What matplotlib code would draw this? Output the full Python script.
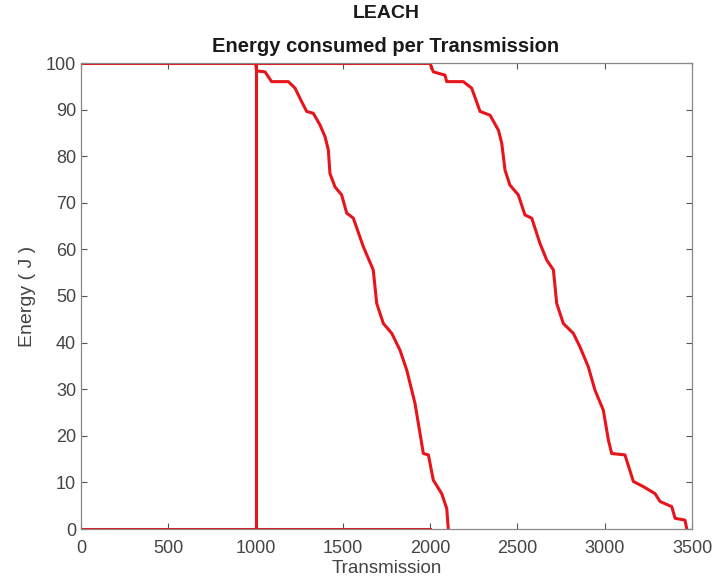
import matplotlib
matplotlib.use("Agg")
import matplotlib.pyplot as plt

plt.rcParams["font.family"] = ["Liberation Sans", "DejaVu Sans"]

# node that stays alive at full energy until round 2000
top_x = [0, 2000]
top_y = [100, 100]

# dead nodes (zero energy) over the first 2000 transmissions
floor_x = [0, 2000]
floor_y = [0, 0]

# node switched on at 1000
jump_x = [1000, 1000]
jump_y = [0, 100]

# first decay curve
c1_x = [1000, 1006, 1054, 1092, 1188, 1226, 1264, 1293, 1331, 1369, 1398, 1417,
        1426, 1455, 1493, 1522, 1560, 1617, 1674, 1694, 1732, 1780, 1827, 1866,
        1913, 1942, 1961, 1990, 2018, 2066, 2095, 2104]
c1_y = [100, 98.3, 98.1, 96.0, 96.0, 94.6, 91.7, 89.6, 89.2, 86.7, 84.2, 81.3,
        76.3, 73.4, 71.7, 67.8, 66.7, 60.6, 55.6, 48.4, 44.1, 42.0, 38.4, 34.1,
        27.0, 20.5, 16.2, 15.9, 10.5, 7.6, 4.4, 0]

# second decay curve
c2_x = [1999, 2018, 2085, 2095, 2190, 2238, 2286, 2343, 2391, 2410, 2429, 2457,
        2505, 2543, 2582, 2629, 2668, 2706, 2725, 2763, 2820, 2858, 2906, 2944,
        2992, 3021, 3040, 3116, 3164, 3221, 3288, 3317, 3384, 3403, 3460, 3470]
c2_y = [100, 98.1, 97.4, 96.0, 96.0, 94.6, 89.6, 88.8, 85.6, 82.8, 77.0, 73.8,
        71.7, 67.4, 66.7, 61.3, 57.7, 55.6, 48.4, 44.1, 42.0, 39.1, 34.8, 29.8,
        25.5, 19.1, 16.2, 15.9, 10.2, 9.1, 7.6, 5.9, 4.8, 2.3, 1.9, 0]

red = "#e8141c"
grey = "#555555"

fig = plt.figure(figsize=(7.15, 5.84), dpi=100)
ax = fig.add_axes([81 / 715, 1 - 529 / 584, 611 / 715, 466 / 584])

for xs, ys in [(top_x, top_y), (floor_x, floor_y), (jump_x, jump_y),
               (c1_x, c1_y), (c2_x, c2_y)]:
    ax.plot(xs, ys, color=red, lw=2.2, solid_joinstyle="round")

ax.set_xlim(0, 3500)
ax.set_ylim(0, 100)
ax.set_xticks(range(0, 3501, 500))
ax.set_yticks(range(0, 101, 10))
ax.tick_params(direction="in", top=True, right=True, length=4, width=0.8,
               colors=grey, labelsize=13, labelcolor="#444444")
ax.tick_params(axis="x", pad=8)
for s in ax.spines.values():
    s.set_color("#888888")
    s.set_linewidth(0.9)

ax.set_xlabel("Transmission", fontsize=13.5, color="#444444", labelpad=2)
ax.set_ylabel("Energy ( J )", fontsize=14, color="#444444", labelpad=7)

fig.text(386 / 715, 1 - 14 / 584, "LEACH", ha="center", va="center",
         fontsize=14, fontweight="bold", color="#1a1a1a")
fig.text(386 / 715, 1 - 46 / 584, "Energy consumed per Transmission",
         ha="center", va="center", fontsize=14.5, fontweight="bold", color="#1a1a1a")

fig.savefig("out.png", dpi=100)
plt.close(fig)
